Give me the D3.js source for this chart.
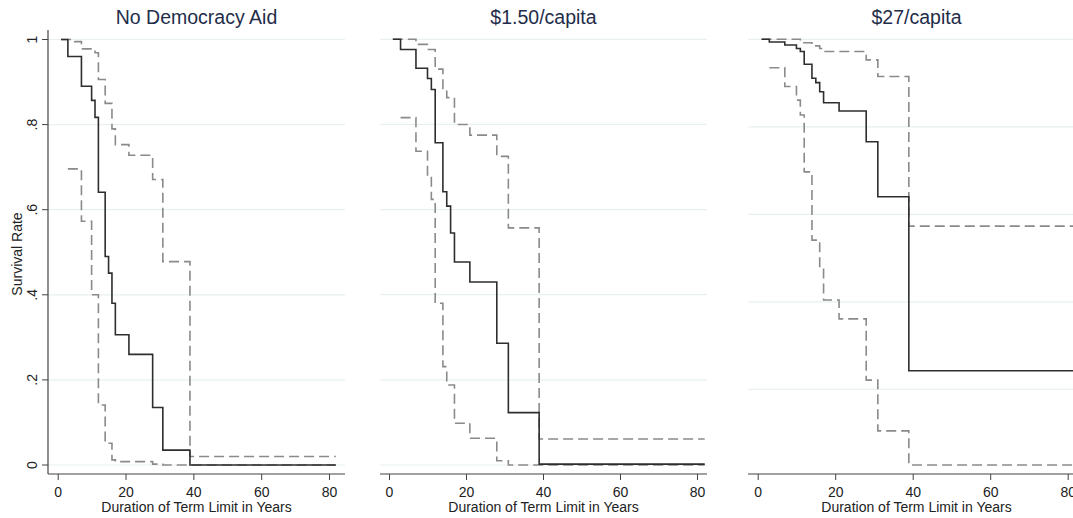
<!DOCTYPE html>
<html>
<head>
<meta charset="utf-8">
<script src="https://cdn.jsdelivr.net/npm/d3@7"></script>
<style>
  body { margin: 0; background: #fff; }
  svg { font-family: "Liberation Sans", Arial, sans-serif; }
</style>
</head>
<body>
<svg id="chart" width="1073" height="518"></svg>
<script>
// --- data ---
const panelTitles = ["No Democracy Aid", "$1.50/capita", "$27/capita"];
const xTicks = [0, 20, 40, 60, 80];
const yTicks = [0, 0.2, 0.4, 0.6, 0.8, 1];
const yTickLabels = ["0", ".2", ".4", ".6", ".8", "1"];
const xTitle = "Duration of Term Limit in Years";
const yTitle = "Survival Rate";

// No Democracy Aid
const noAidTimes  = [1, 3, 7, 10, 11, 12, 14, 15, 16, 17, 21, 28, 31, 39, 82];
const noAidSurv   = [1, .96, .89, .857, .817, .641, .49, .451, .38, .306, .26, .135, .035, 0, 0];
const noAidUpT    = [1, 5, 7, 11, 12, 14, 16, 17, 21, 28, 31, 39, 82];
const noAidUpper  = [1, .995, .978, .969, .906, .85, .79, .753, .728, .671, .478, .02, .02];
const noAidLoT    = [3, 7, 10, 12, 14, 16, 17, 28, 31, 82];
const noAidLower  = [.696, .573, .40, .141, .051, .012, .008, .002, 0, 0];

// $1.50/capita
const lowAidTimes = [1, 3, 7, 10, 11, 12, 14, 15, 16, 17, 21, 28, 31, 39, 82];
const lowAidSurv  = [1, .976, .932, .908, .882, .757, .642, .608, .545, .477, .43, .286, .123, .002, .002];
const lowAidUpT   = [1, 7, 10, 12, 14, 15, 17, 21, 28, 31, 39, 82];
const lowAidUpper = [1, .988, .976, .93, .878, .863, .80, .775, .725, .557, .061, .061];
const lowAidLoT   = [3, 7, 10, 11, 12, 14, 15, 17, 21, 28, 31, 82];
const lowAidLower = [.816, .737, .678, .624, .38, .231, .188, .098, .063, .01, 0, 0];

// $27/capita
const highAidTimes = [1, 3, 7, 10, 11, 12, 14, 15, 16, 17, 21, 28, 31, 39, 82];
const highAidSurv  = [1, .994, .987, .979, .972, .943, .911, .901, .880, .855, .836, .766, .640, .2425, .2425];
const highAidUpT   = [1, 11, 14, 16, 17, 28, 31, 39, 82];
const highAidUpper = [1, .992, .985, .979, .972, .953, .915, .573, .573];
const highAidLoT   = [3, 7, 10, 11, 12, 14, 16, 17, 21, 28, 31, 39, 82];
const highAidLower = [.935, .892, .861, .827, .697, .541, .477, .404, .361, .221, .105, .027, .027];

const zip = (ts, vs) => ts.map((t, i) => ({ t: t, v: vs[i] }));

const panelData = [
    { surv: zip(noAidTimes, noAidSurv), upper: zip(noAidUpT, noAidUpper), lower: zip(noAidLoT, noAidLower) },
    { surv: zip(lowAidTimes, lowAidSurv), upper: zip(lowAidUpT, lowAidUpper), lower: zip(lowAidLoT, lowAidLower) },
    { surv: zip(highAidTimes, highAidSurv), upper: zip(highAidUpT, highAidUpper), lower: zip(highAidLoT, highAidLower) }
];

// --- layout (each panel was scaled a little differently) ---
const layout = [
    { x0: 57.7, x80: 329,    axL: 48,  axR: 345,  yOne: 39.5, yZero: 465,   showY: true },
    { x0: 389,  x80: 697,    axL: 380, axR: 707,  yOne: 39.3, yZero: 465,   showY: false },
    { x0: 757.7, x80: 1067.7, axL: 748, axR: 1085, yOne: 39.3, yZero: 476.8, showY: false }
];
const axisY = 474;

const svg = d3.select('#chart');

layout.forEach((p, i) => {
    const x = d3.scaleLinear().domain([0, 80]).range([p.x0, p.x80]);
    const y = d3.scaleLinear().domain([0, 1]).range([p.yZero, p.yOne]);
    const g = svg.append('g');

    // faint gridlines
    g.append('g').selectAll('line')
        .data(yTicks.filter(v => y(v) < axisY - 2))
        .enter().append('line')
        .attr('x1', p.axL).attr('x2', p.axR)
        .attr('y1', d => y(d)).attr('y2', d => y(d))
        .style('stroke', '#e9f0f0')
        .style('stroke-width', 1.2);

    // x axis
    const xAxis = g.append('g')
        .attr('transform', 'translate(0,' + axisY + ')')
        .call(d3.axisBottom(x).tickValues(xTicks).tickSize(6).tickPadding(7).tickFormat(d3.format('d')));
    xAxis.select('.domain').remove();
    xAxis.append('line')
        .attr('x1', p.axL).attr('x2', p.axR)
        .style('stroke', '#444').style('stroke-width', 1.2);
    xAxis.selectAll('.tick line').style('stroke', '#444');
    xAxis.selectAll('.tick text')
        .style('font-size', '14px')
        .style('fill', '#222')
        .style('font-family', '"Liberation Sans", Arial, sans-serif');

    g.append('text')
        .attr('x', (p.axL + p.axR) / 2)
        .attr('y', 511.5)
        .attr('text-anchor', 'middle')
        .style('font-size', '14px')
        .style('fill', '#222')
        .text(xTitle);

    // y axis only on the first panel
    if (p.showY) {
        g.append('line')
            .attr('x1', p.axL).attr('x2', p.axL)
            .attr('y1', 30).attr('y2', axisY)
            .style('stroke', '#444').style('stroke-width', 1.2);
        g.append('g').selectAll('line')
            .data(yTicks)
            .enter().append('line')
            .attr('x1', p.axL - 6).attr('x2', p.axL)
            .attr('y1', d => y(d)).attr('y2', d => y(d))
            .style('stroke', '#444');
        g.append('g').selectAll('text')
            .data(yTicks)
            .enter().append('text')
            .attr('transform', d => 'translate(37,' + y(d) + ') rotate(-90)')
            .attr('text-anchor', 'middle')
            .style('font-size', '14px')
            .style('fill', '#222')
            .text((d, k) => yTickLabels[k]);
        g.append('text')
            .attr('transform', 'translate(22,' + 254 + ') rotate(-90)')
            .attr('text-anchor', 'middle')
            .style('font-size', '14px')
            .style('fill', '#222')
            .text(yTitle);
    }

    // panel title
    g.append('text')
        .attr('x', (p.axL + p.axR) / 2)
        .attr('y', 24)
        .attr('text-anchor', 'middle')
        .style('font-size', '19.5px')
        .style('fill', '#1f2d4a')
        .text(panelTitles[i]);

    const step = d3.line()
        .x(d => x(d.t))
        .y(d => y(d.v))
        .curve(d3.curveStepAfter);

    const clipId = 'clip' + i;
    g.append('clipPath').attr('id', clipId)
        .append('rect').attr('x', p.axL).attr('y', 0).attr('width', p.axR - p.axL).attr('height', axisY);

    const lines = g.append('g').attr('clip-path', 'url(#' + clipId + ')');
    [panelData[i].upper, panelData[i].lower].forEach(band => {
        lines.append('path')
            .attr('d', step(band))
            .style('fill', 'none')
            .style('stroke', '#8a8a8a')
            .style('stroke-width', 1.6)
            .style('stroke-dasharray', '10,5');
    });
    lines.append('path')
        .attr('d', step(panelData[i].surv))
        .style('fill', 'none')
        .style('stroke', '#2e2e2e')
        .style('stroke-width', 1.6);
});
</script>
</body>
</html>
